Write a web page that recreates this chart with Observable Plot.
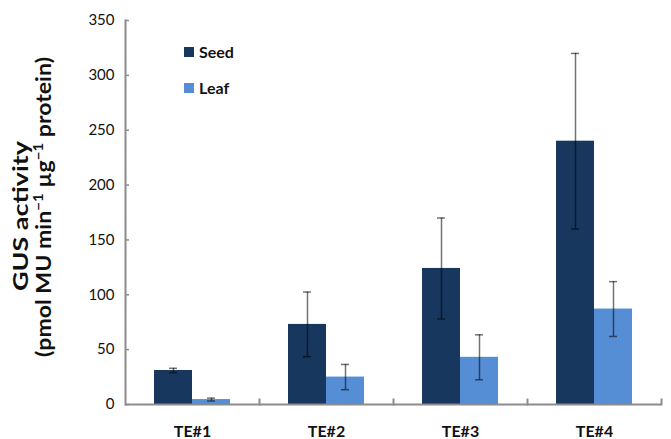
<!DOCTYPE html>
<html><head><meta charset="utf-8">
<script src="https://cdn.jsdelivr.net/npm/d3@7"></script>
<script src="https://cdn.jsdelivr.net/npm/@observablehq/plot@0.6"></script>
<style>
body{margin:0;background:#fff;}
#chart{position:relative;width:671px;height:439px;}
</style>
</head><body><div id="chart"></div>
<script>
const groups = ["TE#1", "TE#2", "TE#3", "TE#4"];
const series = ["Seed", "Leaf"];
const seedMean = [31, 73, 124, 240];
const seedErr = [2, 29.5, 46, 80];
const leafMean = [4.5, 25, 43, 87];
const leafErr = [1.3, 11.5, 20.5, 25];
const yTicks = [0, 50, 100, 150, 200, 250, 300, 350];
const colors = ["#17375e", "#558ed5"];
const yTitle1 = "GUS activity";

const data = groups.flatMap((g, i) => [
  {group: g, series: "Seed", mean: seedMean[i], err: seedErr[i]},
  {group: g, series: "Leaf", mean: leafMean[i], err: leafErr[i]}
]);

const font = "Lato, 'Liberation Sans', sans-serif";
const axisGray = "#8c8c8c";
const errStyle = {stroke: "#000", strokeOpacity: 0.55, strokeWidth: 1.5};

const plot = Plot.plot({
  width: 671, height: 439,
  marginLeft: 123, marginRight: 9, marginTop: 20, marginBottom: 35,
  style: {fontFamily: font, background: "transparent", color: "#111"},
  fx: {domain: groups, padding: 0, label: null},
  x: {domain: series, paddingInner: 0, paddingOuter: 0.745, axis: null},
  y: {domain: [0, 350], axis: null},
  color: {domain: series, range: colors},
  marks: [
    Plot.barY(data, {fx: "group", x: "series", y: "mean", fill: "series"}),
    Plot.ruleX(data, {fx: "group", x: "series", y1: d => d.mean - d.err, y2: d => d.mean + d.err, ...errStyle}),
    Plot.tickY(data, {fx: "group", x: "series", y: d => d.mean + d.err, insetLeft: 15, insetRight: 15, ...errStyle}),
    Plot.tickY(data, {fx: "group", x: "series", y: d => d.mean - d.err, insetLeft: 15, insetRight: 15, ...errStyle}),
    Plot.ruleY([0], {stroke: axisGray, strokeWidth: 2}),
    Plot.frame({anchor: "right", insetTop: 379, stroke: axisGray, strokeWidth: 2}),
    Plot.frame({anchor: "left", facetAnchor: "left", stroke: axisGray, strokeWidth: 2}),
    Plot.axisY({ticks: yTicks, tickSize: 0, tickPadding: 11, fontSize: 15, fill: "#111", label: null}),
    Plot.axisY({ticks: yTicks, tickSize: 4, dx: 4, text: null, stroke: axisGray, strokeWidth: 1.5, label: null}),
    Plot.axisFx({anchor: "bottom", tickSize: 0, tickPadding: 21, fontSize: 16, fontWeight: "bold", fill: "#111", label: null})
  ]
});

const svg = d3.select(plot);
const color = plot.scale("color");

// y-axis title (two lines, rotated)
svg.append("text")
  .attr("transform", "translate(21,216) rotate(-90)")
  .attr("text-anchor", "middle").attr("dy", "0.35em")
  .attr("textLength", 150).attr("lengthAdjust", "spacingAndGlyphs")
  .attr("font-family", font).attr("font-size", 21).attr("font-weight", "bold").attr("fill", "#111")
  .text(yTitle1);
const t2 = svg.append("text")
  .attr("transform", "translate(44,207) rotate(-90)")
  .attr("text-anchor", "middle").attr("dy", "0.35em")
  .attr("textLength", 300).attr("lengthAdjust", "spacingAndGlyphs")
  .attr("font-family", font).attr("font-size", 20).attr("font-weight", "bold").attr("fill", "#111");
t2.append("tspan").text("(pmol MU min");
t2.append("tspan").attr("baseline-shift", "super").attr("font-size", 13).text("−1");
t2.append("tspan").text(" µg");
t2.append("tspan").attr("baseline-shift", "super").attr("font-size", 13).text("−1");
t2.append("tspan").text(" protein)");

// legend
series.forEach((s, i) => {
  const y0 = 47 + i * 36;
  svg.append("rect").attr("x", 184).attr("y", y0).attr("width", 10).attr("height", 10)
    .attr("fill", color.apply(s));
  svg.append("text").attr("x", 199).attr("y", y0 + 11).attr("text-anchor", "start")
    .attr("font-family", font).attr("font-size", 16).attr("font-weight", "bold").attr("fill", "#111")
    .text(s);
});

document.getElementById("chart").append(plot);
</script>
</body></html>
